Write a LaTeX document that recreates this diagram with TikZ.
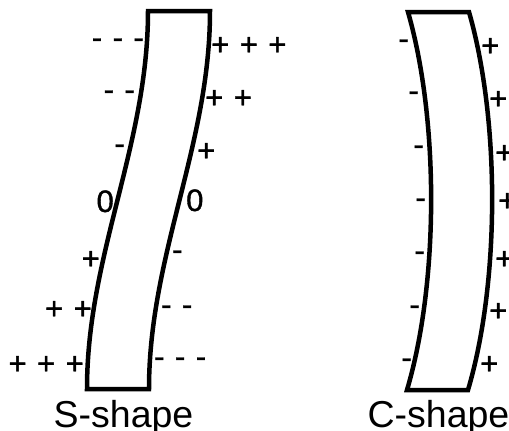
\documentclass[tikz,border=0pt]{standalone}
\usepackage{fontspec}
\setmainfont{Liberation Sans}
\newfontfamily\signfont[FakeBold=1.2]{Liberation Sans}

\begin{document}
\begin{tikzpicture}[
  x=1pt,y=-1pt,
  rod/.style={line width=4.5pt,line join=miter},
  sign/.style={inner sep=0pt,font=\signfont\fontsize{31}{31}\selectfont,
    execute at begin node={\spaceskip=10.5pt plus 0pt\relax}},
  caption/.style={inner sep=0pt,anchor=base,font=\fontsize{37.5}{40}\selectfont}
]
  \useasboundingbox (0,0) rectangle (509,431);

  % S-shape
  \draw[rod] (210,11) .. controls (210,145) and (149,255) .. (149,389)
    -- (87,389) .. controls (87,255) and (148,145) .. (148,11) -- cycle;
  \node[sign,anchor=base east] (sl1) at (144,48) {- - -};
  \node[sign,anchor=base east] (sl2) at (135,100) {- -};
  \node[sign,anchor=base east] (sl3) at (125,154) {-};
  \node[sign,anchor=base east] (sl4) at (114,212) {0};
  \node[sign,anchor=base east] (sl5) at (100,269) {+};
  \node[sign,anchor=base east] (sl6) at (92,319) {+ +};
  \node[sign,anchor=base east] (sl7) at (84,374) {+ + +};
  \node[sign,anchor=base west] (sr1) at (211,55) {+ + +};
  \node[sign,anchor=base west] (sr2) at (205,108) {+ +};
  \node[sign,anchor=base west] (sr3) at (197,161) {+};
  \node[sign,anchor=base west] (sr4) at (186,211) {0};
  \node[sign,anchor=base west] (sr5) at (172,260) {-};
  \node[sign,anchor=base west] (sr6) at (161,315) {- -};
  \node[sign,anchor=base west] (sr7) at (154,367) {- - -};
  \node[caption] (sname) at (123.5,427) {S-shape};

  % C-shape
  \draw[rod] (469,12) .. controls (500,120) and (500,282) .. (468,390)
    -- (407,390) .. controls (439,282) and (439,120) .. (408,12) -- cycle;
  \node[sign,anchor=base east] (cl1) at (409,49) {-};
  \node[sign,anchor=base east] (cl2) at (419,101) {-};
  \node[sign,anchor=base east] (cl3) at (424,155) {-};
  \node[sign,anchor=base east] (cl4) at (426,208) {-};
  \node[sign,anchor=base east] (cl5) at (425,261) {-};
  \node[sign,anchor=base east] (cl6) at (420,315) {-};
  \node[sign,anchor=base east] (cl7) at (412,368) {-};
  \node[sign,anchor=base west] (cr1) at (481,56) {+};
  \node[sign,anchor=base west] (cr2) at (489,109) {+};
  \node[sign,anchor=base west] (cr3) at (495,163) {+};
  \node[sign,anchor=base west] (cr4) at (498,211) {+};
  \node[sign,anchor=base west] (cr5) at (495,269) {+};
  \node[sign,anchor=base west] (cr6) at (489,321) {+};
  \node[sign,anchor=base west] (cr7) at (480,374) {+};
  \node[caption] (cname) at (438.5,427) {C-shape};
\end{tikzpicture}
\end{document}
